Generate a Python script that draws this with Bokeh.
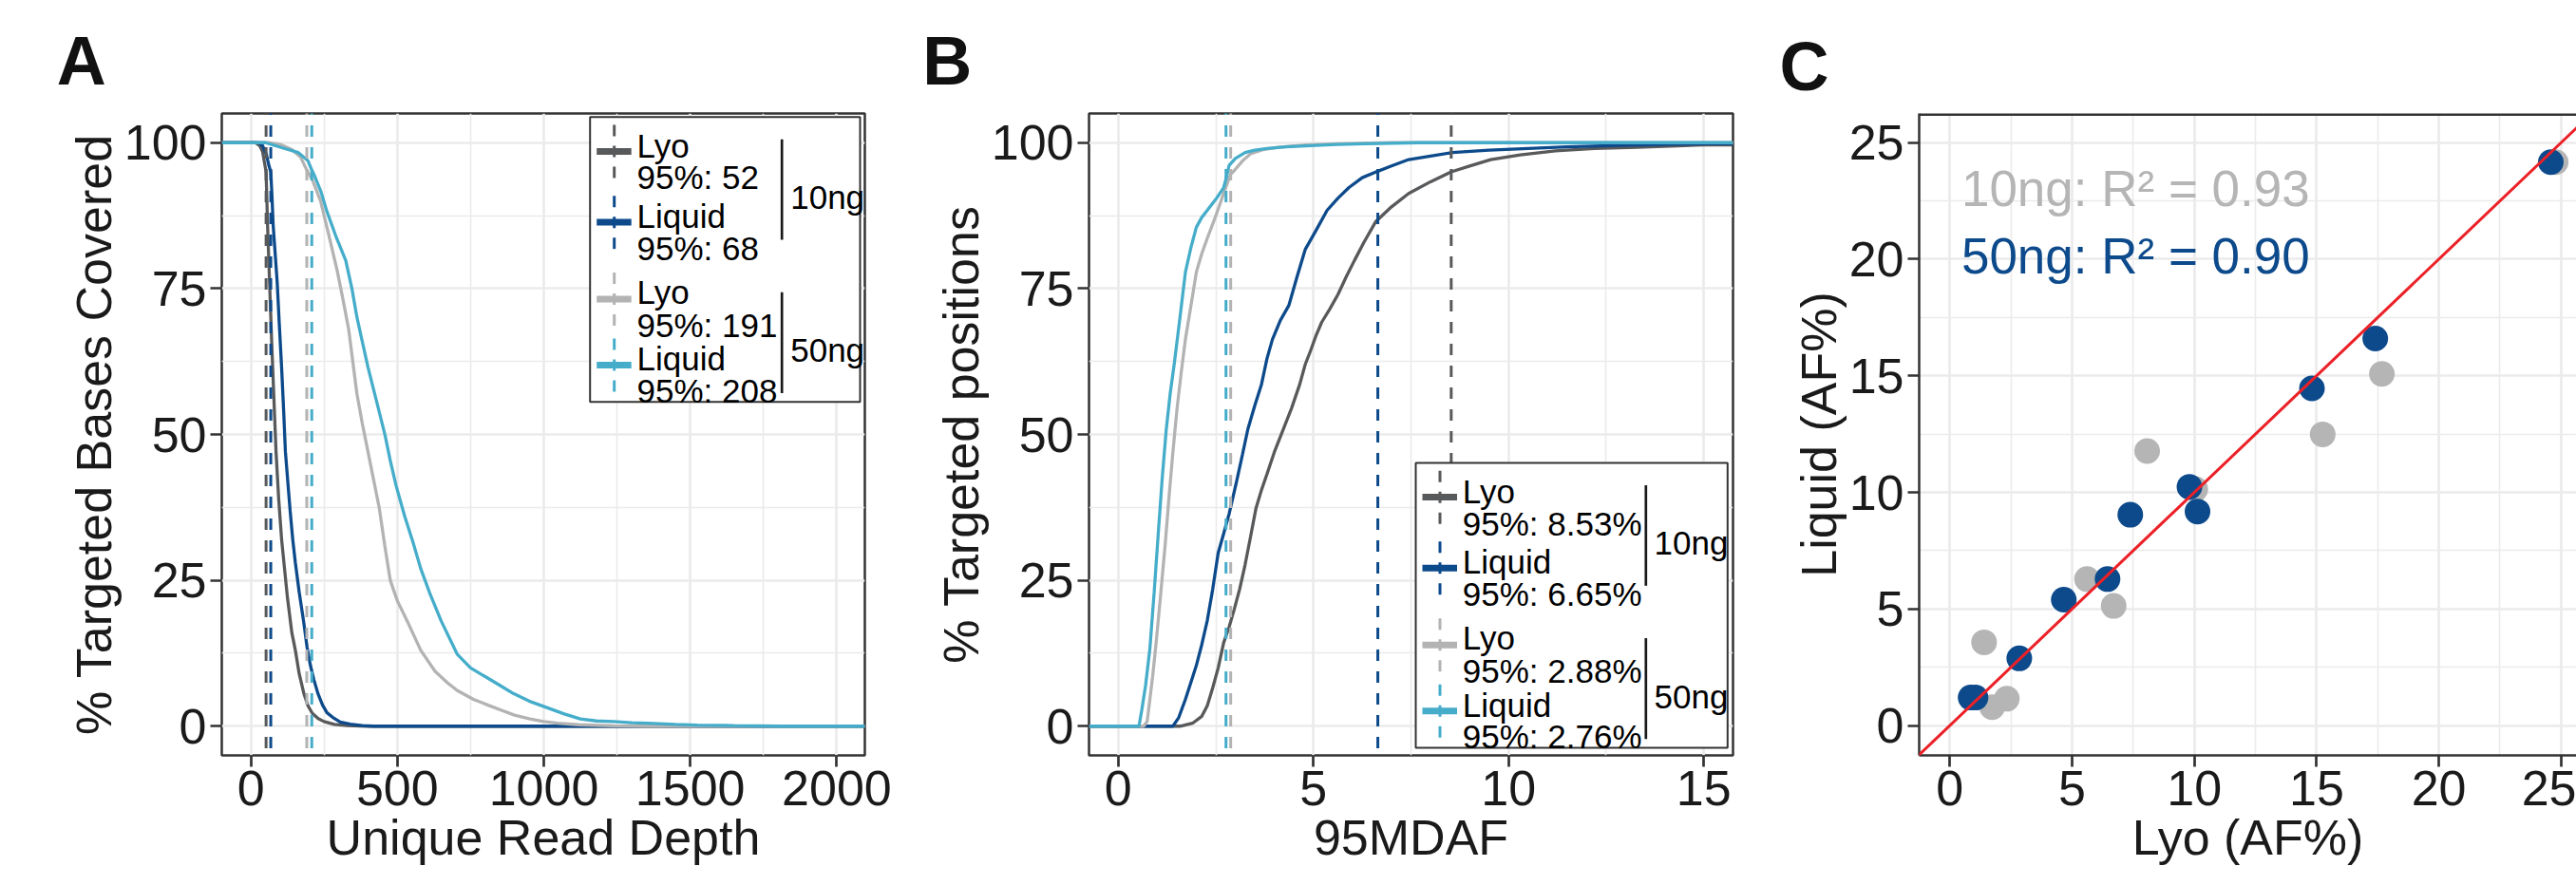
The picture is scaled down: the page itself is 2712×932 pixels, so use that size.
from bokeh.plotting import figure
from bokeh.layouts import row
from bokeh.models import Range1d, FixedTicker, Slope
from bokeh.core.properties import value
from bokeh.embed import file_html
from bokeh.resources import INLINE

FONT = "Liberation Sans"

# ---------------- data ----------------
series_names = ["Lyo", "Liquid", "Lyo", "Liquid"]
group_names = ["10ng", "50ng"]
colors = ["#58595b", "#0d4a8b", "#b3b3b3", "#45adca"]

# Panel A: % targeted bases covered vs unique read depth
a_lyo10_x = [0, 15, 30, 40, 52, 57, 64, 71, 78, 86, 95, 105, 115, 125, 140, 152, 165, 181, 195, 210, 230, 250, 285, 330, 400, 2000]
a_lyo10_y = [100, 100, 99.5, 98.5, 95, 86, 76, 66, 57, 47, 39, 32, 27, 22, 16, 13, 9, 5.6, 3.5, 2.2, 1.3, 0.8, 0.3, 0.1, 0, 0]
a_liq10_x = [0, 25, 40, 53, 62, 68, 72, 76, 83, 90, 97, 105, 112, 118, 126, 134, 143, 152, 165, 180, 192, 203, 215, 229, 245, 260, 280, 305, 340, 380, 420, 2000]
a_liq10_y = [100, 100, 99.5, 98, 96, 95, 91, 86, 81, 76, 69, 61.5, 54, 47, 42, 37, 32, 28, 23, 18, 13.5, 10.5, 8, 5.6, 3.6, 2.3, 1.5, 0.7, 0.35, 0.1, 0, 0]
a_lyo50_x = [0, 60, 100, 140, 170, 191, 211, 238, 267, 295, 315, 334, 348, 362, 380, 400, 420, 438, 457, 476, 500, 534, 580, 629, 670, 705, 760, 810, 858, 900, 953, 1000, 1048, 1120, 1240, 1350, 2000]
a_lyo50_y = [100, 100, 99.7, 98.8, 97.5, 95.3, 93.5, 90, 84, 78, 73, 68, 62.5, 57, 52, 47, 42, 37.5, 31, 25, 21.5, 18, 13, 9.4, 7.5, 6.1, 4.6, 3.6, 2.7, 1.9, 1.25, 0.8, 0.5, 0.25, 0.05, 0, 0]
a_liq50_x = [0, 50, 108, 162, 195, 208, 216, 240, 259, 290, 324, 345, 362, 380, 400, 430, 458, 476, 496, 525, 553, 580, 610, 650, 705, 750, 800, 850, 896, 950, 1010, 1070, 1125, 1180, 1239, 1300, 1354, 1450, 1525, 1650, 1811, 2000]
a_liq50_y = [100, 100, 99.1, 98.3, 96.9, 95.3, 94.5, 91.5, 88.3, 84, 79.8, 75, 70.1, 66, 61.5, 55.5, 49.9, 45.5, 41.2, 36, 31.6, 27, 22.9, 18, 12.3, 10, 8.5, 7, 5.6, 4.3, 3.2, 2.1, 1.25, 0.9, 0.8, 0.6, 0.5, 0.3, 0.2, 0.1, 0, 0]
a_cut = [52, 68, 191, 208]

# Panel B: % targeted positions vs 95MDAF
b_lyo10_x = [1.58, 1.9, 2.14, 2.28, 2.42, 2.56, 2.7, 2.84, 2.97, 3.11, 3.25, 3.39, 3.53, 3.67, 3.81, 4.0, 4.23, 4.44, 4.65, 4.79, 4.93, 5.07, 5.21, 5.42, 5.63, 5.84, 6.05, 6.3, 6.6, 7.0, 7.44, 8.0, 8.53, 9.0, 9.54, 10.3, 11.2, 12.2, 13.3, 14.5, 15.0]
b_lyo10_y = [0, 0.5, 1.7, 3.5, 6.6, 10, 14.3, 17, 20, 23.5, 27.7, 32.5, 37.4, 40.5, 43.2, 47, 50.9, 54.5, 58.6, 62, 64.4, 67, 69.2, 71.5, 74, 77, 79.8, 83, 86.5, 89, 91.3, 93.3, 95, 96, 97.1, 97.9, 98.6, 99, 99.2, 99.5, 99.6]
b_liq10_x = [1.4, 1.55, 1.72, 1.86, 2.0, 2.14, 2.28, 2.42, 2.56, 2.7, 2.84, 3.04, 3.18, 3.32, 3.5, 3.67, 3.81, 3.95, 4.15, 4.37, 4.58, 4.79, 5.07, 5.35, 5.63, 5.91, 6.25, 6.65, 7.0, 7.44, 8.0, 8.56, 9.5, 10.5, 11.5, 12.6, 14.0, 15.0]
b_liq10_y = [0, 1.5, 4.6, 7.5, 10.4, 14, 18.1, 23.5, 29.7, 33, 36.4, 42.2, 46.5, 50.9, 55, 58.6, 63, 66.3, 69.5, 72.1, 77, 81.7, 85, 88.4, 90.5, 92.3, 94, 95.1, 96, 97.1, 97.7, 98.3, 98.7, 99.0, 99.3, 99.5, 99.7, 99.8]
b_lyo50_x = [0.65, 0.74, 0.88, 0.98, 1.09, 1.2, 1.3, 1.4, 1.51, 1.62, 1.72, 1.86, 2.0, 2.14, 2.28, 2.5, 2.7, 2.88, 2.97, 3.2, 3.39, 3.7, 4.09, 4.8, 5.63, 7.0, 15.0]
b_lyo50_y = [0, 0.8, 8.5, 15, 22.9, 31, 39.3, 47, 54.7, 61, 66.3, 72, 77.8, 81, 83.6, 87.5, 91.3, 94.6, 95.2, 97, 98.1, 98.8, 99.2, 99.6, 99.8, 100, 100]
b_liq50_x = [0.53, 0.6, 0.7, 0.81, 0.92, 1.02, 1.12, 1.23, 1.33, 1.44, 1.58, 1.72, 1.86, 2.0, 2.14, 2.28, 2.5, 2.7, 2.76, 2.84, 3.0, 3.25, 3.5, 3.81, 4.3, 4.93, 5.6, 6.33, 7.7, 15.0]
b_liq50_y = [0, 2.7, 7, 13.3, 23, 32.6, 42, 50.9, 57, 62.4, 70, 77.8, 82, 85.5, 87.2, 88.4, 90.3, 92.3, 93.8, 96.1, 97.3, 98.3, 98.7, 99.0, 99.3, 99.5, 99.7, 99.8, 100, 100]
b_cut = [8.53, 6.65, 2.88, 2.76]

# Panel C: Liquid vs Lyo allele frequency
c_lyo_10 = [1.40, 1.73, 2.33, 5.61, 6.70, 8.07, 10.04, 15.25, 17.67, 24.78]
c_liq_10 = [3.57, 0.79, 1.15, 6.28, 5.13, 11.77, 10.14, 12.49, 15.08, 24.16]
c_lyo_50 = [0.85, 1.05, 2.84, 4.66, 6.45, 7.38, 9.80, 10.13, 14.81, 17.40, 24.58]
c_liq_50 = [1.20, 1.20, 2.88, 5.40, 6.28, 9.04, 10.24, 9.18, 14.46, 16.60, 24.16]
c_r2 = [0.93, 0.90]

# ---------------- layout constants ----------------
A_XR = (-99.2, 2096.0)
B_XR = (-0.75, 15.75)
C_XR = (-1.255, 25.63)
PCT_YR = (-5.0, 105.0)
C_YR = (-1.28, 26.25)

TICK_FS = "52px"
TITLE_FS = "52px"
LEG_FS = "35px"
INK = "#1a1a1a"
FRAME = "#333333"
GRID = "#ebebeb"


def make_fig(width, height, ml, mr, mt, mb, xr, yr, xticks, xminor, yticks, yminor,
             xlabel, ylabel, letter, letter_offset, letter_standoff, outline=True):
    p = figure(width=width, height=height, x_range=Range1d(*xr), y_range=Range1d(*yr),
               output_backend="svg", toolbar_location=None,
               min_border_left=ml, min_border_right=mr, min_border_top=mt, min_border_bottom=mb)
    p.background_fill_color = "white"
    p.border_fill_color = "white"
    p.xaxis.ticker = FixedTicker(ticks=xticks, minor_ticks=xminor)
    p.yaxis.ticker = FixedTicker(ticks=yticks, minor_ticks=yminor)
    p.xaxis.axis_label = xlabel
    p.yaxis.axis_label = ylabel
    for ax in (p.xaxis[0], p.yaxis[0]):
        ax.axis_label_text_font = FONT
        ax.axis_label_text_font_size = TITLE_FS
        ax.axis_label_text_font_style = "normal"
        ax.axis_label_text_color = INK
        ax.major_label_text_font = FONT
        ax.major_label_text_font_size = TICK_FS
        ax.major_label_text_color = INK
        ax.major_label_standoff = 4
        ax.major_tick_out = 12
        ax.major_tick_in = 0
        ax.major_tick_line_width = 2.7
        ax.major_tick_line_color = FRAME
        ax.minor_tick_line_color = None
        if outline:
            ax.axis_line_color = None
        else:
            ax.axis_line_color = FRAME
            ax.axis_line_width = 2.5
    p.xaxis[0].axis_label_standoff = 2
    p.yaxis[0].axis_label_standoff = 0
    for g in (p.xgrid[0], p.ygrid[0]):
        g.grid_line_color = GRID
        g.grid_line_width = 2.7
        g.minor_grid_line_color = GRID
        g.minor_grid_line_width = 1.6
    if outline:
        p.outline_line_color = FRAME
        p.outline_line_width = 2.5
    else:
        p.outline_line_color = None
    p.title.text = letter
    p.title.text_font = FONT
    p.title.text_font_size = "72px"
    p.title.text_font_style = "bold"
    p.title.text_color = "#111111"
    p.title.align = "left"
    p.title.offset = letter_offset
    p.title.standoff = letter_standoff
    return p


def mapper(xr, yr, fw, fh):
    def fx(dx):
        return xr[0] + dx / fw * (xr[1] - xr[0])

    def fy(dy):
        return yr[1] - dy / fh * (yr[1] - yr[0])
    return fx, fy


def pad(xs, ys, xr):
    return [xr[0]] + list(xs) + [xr[1]], [ys[0]] + list(ys) + [ys[-1]]


KEY_LINE_Y = [36.3, 111.2, 192.3, 262.0]
TXT1_Y = [30.2, 104.8, 185.0, 255.5]
TXT2_Y = [63.8, 138.7, 219.5, 289.0]
BRACKETS = [(23.7, 129.8), (185.2, 291.7)]
GROUP_Y = [84.5, 246.5]
LEG_H = 301.0


def draw_legend(p, fx, fy, left, top, width, second_lines, bracket_dx, group_dx):
    p.quad(left=[fx(left)], right=[fx(left + width)], top=[fy(top)], bottom=[fy(top + LEG_H)],
           fill_color="white", line_color=FRAME, line_width=2)
    for i in range(4):
        ly = top + KEY_LINE_Y[i]
        p.segment(x0=[fx(left + 25.5)], y0=[fy(ly - 28)], x1=[fx(left + 25.5)], y1=[fy(ly + 31)],
                  line_color=colors[i], line_width=3, line_dash="12 10")
        p.segment(x0=[fx(left + 7)], y0=[fy(ly)], x1=[fx(left + 43.5)], y1=[fy(ly)],
                  line_color=colors[i], line_width=7)
    xs = [fx(left + 49.3)] * 8
    ys = [fy(top + t) for t in TXT1_Y] + [fy(top + t) for t in TXT2_Y]
    txt = list(series_names) + list(second_lines)
    p.text(x=xs, y=ys, text=txt, text_font=value(FONT), text_font_size=LEG_FS,
           text_color="#000000", text_baseline="alphabetic", text_align="left")
    for (b0, b1) in BRACKETS:
        p.segment(x0=[fx(left + bracket_dx)], y0=[fy(top + b0)], x1=[fx(left + bracket_dx)],
                  y1=[fy(top + b1)], line_color=INK, line_width=2.7)
    p.text(x=[fx(left + group_dx)] * 2, y=[fy(top + g) for g in GROUP_Y], text=group_names,
           text_font=value(FONT), text_font_size=LEG_FS, text_color="#000000",
           text_baseline="alphabetic", text_align="left")


# ---------------- Panel A ----------------
A_FW, A_FH = 677, 678
pa = make_fig(940, 932, 233, 30, 119, 135, A_XR, PCT_YR,
              [0, 500, 1000, 1500, 2000], [250, 750, 1250, 1750],
              [0, 25, 50, 75, 100], [12.5, 37.5, 62.5, 87.5],
              "Unique Read Depth", "% Targeted Bases Covered", "A", -173.7, 32)
a_series = [(a_lyo10_x, a_lyo10_y), (a_liq10_x, a_liq10_y), (a_lyo50_x, a_lyo50_y), (a_liq50_x, a_liq50_y)]
for (xs, ys), col in zip(a_series, colors):
    px, py = pad(xs, ys, A_XR)
    pa.line(px, py, line_color=col, line_width=3.3)
for v, col in zip(a_cut, colors):
    pa.segment(x0=[v], y0=[PCT_YR[0] - 10], x1=[v], y1=[PCT_YR[1] + 10],
               line_color=col, line_width=3, line_dash="12 11")
fxa, fya = mapper(A_XR, PCT_YR, A_FW, A_FH)
draw_legend(pa, fxa, fya, 387.7, 3.7, 284.3, [f"95%: {v}" for v in a_cut], 202.0, 211.0)

# ---------------- Panel B ----------------
B_FW, B_FH = 678, 678
pb = make_fig(910, 932, 206, 26, 119, 135, B_XR, PCT_YR,
              [0, 5, 10, 15], [2.5, 7.5, 12.5],
              [0, 25, 50, 75, 100], [12.5, 37.5, 62.5, 87.5],
              "95MDAF", "% Targeted positions", "B", -175.3, 32)
b_series = [(b_lyo10_x, b_lyo10_y), (b_liq10_x, b_liq10_y), (b_lyo50_x, b_lyo50_y), (b_liq50_x, b_liq50_y)]
for (xs, ys), col in zip(b_series, colors):
    px, py = pad(xs, ys, B_XR)
    pb.line(px, py, line_color=col, line_width=3.3)
for v, col in zip(b_cut, colors):
    pb.segment(x0=[v], y0=[PCT_YR[0] - 10], x1=[v], y1=[PCT_YR[1] + 10],
               line_color=col, line_width=3, line_dash="12 11")
fxb, fyb = mapper(B_XR, PCT_YR, B_FW, B_FH)
draw_legend(pb, fxb, fyb, 344.0, 369.0, 328.3, [f"95%: {v:.2f}%" for v in b_cut], 242.3, 251.0)

# ---------------- Panel C ----------------
C_FW, C_FH = 692, 682
pc = make_fig(862, 932, 170, 0, 113, 137, C_XR, C_YR,
              [0, 5, 10, 15, 20, 25], [2.5, 7.5, 12.5, 17.5, 22.5],
              [0, 5, 10, 15, 20, 25], [2.5, 7.5, 12.5, 17.5, 22.5],
              "Lyo (AF%)", "Liquid (AF%)", "C", -147.0, 20, outline=False)
pc.segment(x0=[C_XR[0]], y0=[C_YR[1]], x1=[C_XR[1]], y1=[C_YR[1]], line_color=FRAME, line_width=5)
pc.scatter(c_lyo_10, c_liq_10, size=27, fill_color="#b5b5b5", line_color=None)
pc.scatter(c_lyo_50, c_liq_50, size=27, fill_color="#0d4a8b", line_color=None)
pc.add_layout(Slope(gradient=1, y_intercept=0, line_color="#ec2027", line_width=3))
pc.text(x=[0.47, 0.47], y=[23.03, 20.16],
        text=[f"{g}: R\u00b2 = {r:.2f}" for g, r in zip(group_names, c_r2)],
        text_font=value(FONT), text_font_size="53px", text_color=["#b5b5b5", "#0d4a8b"],
        text_baseline="alphabetic", text_align="left")

layout = row(pa, pb, pc)
open("out.html", "w").write(file_html(layout, INLINE))
